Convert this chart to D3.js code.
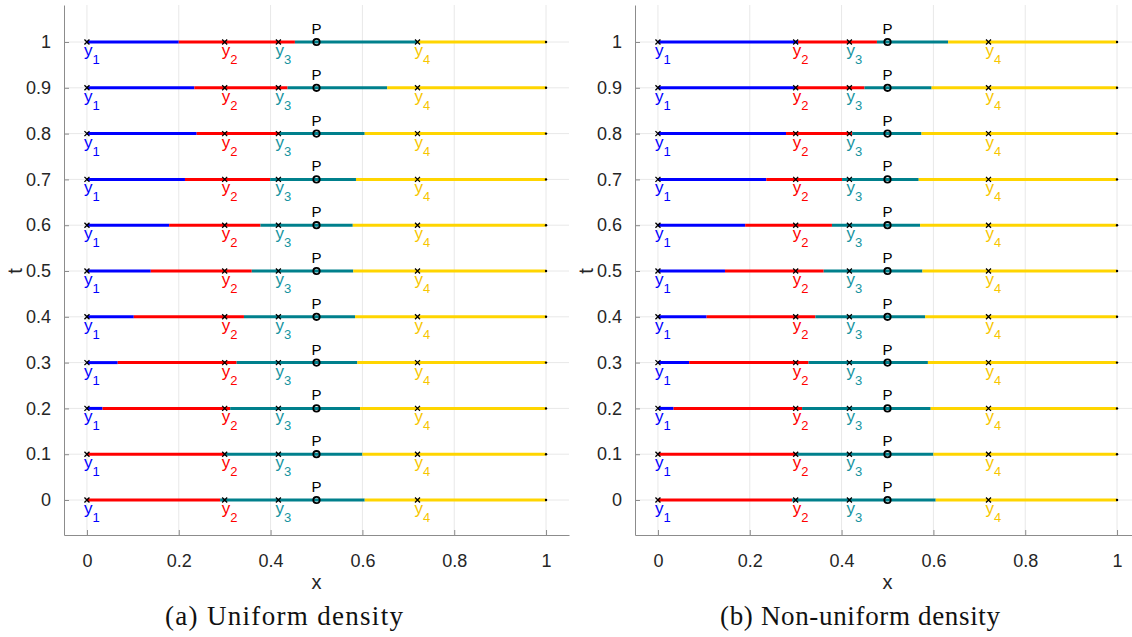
<!DOCTYPE html>
<html>
  <head>
    <meta charset="utf-8">
    <title>Segments over t</title>
    <script src="https://cdn.jsdelivr.net/npm/d3@7"></script>
    <style>
      body { margin: 0; background: #fff; }
      svg { display: block; }
      .grid line { stroke: #e8e8e8; stroke-width: 1; }
      .axisLine { stroke: #8c8c8c; stroke-width: 1; }
      .lbl { font-family: "Liberation Sans", Arial, sans-serif; }
      .caption { font-family: "Liberation Serif", "DejaVu Serif", serif; font-size: 27px; fill: #111; }
    </style>
  </head>
  <body>
    <svg id="chart" width="1132" height="637"></svg>
    <script>
      // data
      tValues = [0, 0.1, 0.2, 0.3, 0.4, 0.5, 0.6, 0.7, 0.8, 0.9, 1];
      xTicks = [0, 0.2, 0.4, 0.6, 0.8, 1];
      markerNames = ["1", "2", "3", "4"];
      markerX = [0, 0.3, 0.417, 0.72];
      pointP = 0.5;
      segColors = ["#0000ff", "#ff0000", "#00808c", "#ffd500"];
      labelColors = ["#0000ff", "#ff0000", "#1593a0", "#f7c600"];
      // breaks per t: blue->red, red->teal, teal->yellow
      breaksUniform = [
        [0, 0.290, 0.605],
        [0, 0.300, 0.600],
        [0.034, 0.312, 0.595],
        [0.067, 0.326, 0.589],
        [0.102, 0.342, 0.584],
        [0.139, 0.359, 0.580],
        [0.179, 0.378, 0.579],
        [0.2135, 0.399, 0.586],
        [0.239, 0.420, 0.605],
        [0.234, 0.437, 0.654],
        [0.200, 0.453, 0.720]
      ];
      breaksNonUniform = [
        [0, 0.292, 0.605],
        [0, 0.303, 0.600],
        [0.034, 0.314, 0.594],
        [0.068, 0.328, 0.588],
        [0.106, 0.343, 0.582],
        [0.146, 0.361, 0.576],
        [0.190, 0.379, 0.571],
        [0.236, 0.401, 0.568],
        [0.279, 0.423, 0.574],
        [0.300, 0.450, 0.596],
        [0.305, 0.477, 0.632]
      ];
      captions = ["(a) Uniform density", "(b) Non-uniform density"];

      chart = d3.select("#chart");

      drawPanel(breaksUniform, captions[0], 64, 284, 238);
      drawPanel(breaksNonUniform, captions[1], 635, 860, 280);

      function drawPanel(breaks, caption, left, captionX, captionW) {
        var g = chart.append("g");
        var x = d3.scaleLinear().domain([-0.05, 1.05]).range([left, left + 505]);
        var y = d3.scaleLinear().domain([-0.0764, 1.0808]).range([535, 5]);
        // grid
        g.append("g").attr("class", "grid")
          .selectAll("line").data(xTicks).join("line")
            .attr("x1", function(d) { return x(d); })
            .attr("x2", function(d) { return x(d); })
            .attr("y1", y.range()[0]).attr("y2", y.range()[1]);
        g.append("g").attr("class", "grid")
          .selectAll("line").data(tValues).join("line")
            .attr("y1", function(d) { return y(d); })
            .attr("y2", function(d) { return y(d); })
            .attr("x1", x.range()[0]).attr("x2", x.range()[1]);
        // axes
        var xAxis = d3.axisBottom(x).tickValues(xTicks).tickFormat(d3.format("~g"))
          .tickSizeInner(-5).tickSizeOuter(0).tickPadding(19);
        var yAxis = d3.axisLeft(y).tickValues(tValues).tickFormat(d3.format("~g"))
          .tickSizeInner(-5).tickSizeOuter(0).tickPadding(13);
        var xg = g.append("g").attr("transform", "translate(0," + y.range()[0] + ")").call(xAxis);
        var yg = g.append("g").attr("transform", "translate(" + x.range()[0] + ",0)").call(yAxis);
        [xg, yg].forEach(function(a) {
          a.attr("font-size", 18).attr("font-family", "Liberation Sans, Arial, sans-serif");
          a.select(".domain").attr("class", "axisLine");
          a.selectAll(".tick line").attr("stroke", "#8c8c8c");
          a.selectAll(".tick text").attr("fill", "#262626");
        });
        xg.append("text").attr("class", "lbl")
          .attr("x", x(0.5)).attr("y", 54)
          .attr("text-anchor", "middle").attr("fill", "#262626")
          .style("font-size", "20px").text("x");
        yg.append("text").attr("class", "lbl")
          .attr("transform", "translate(-42," + y(0.5) + ") rotate(-90)")
          .attr("text-anchor", "middle").attr("fill", "#262626")
          .style("font-size", "20px").text("t");
        // rows
        var rows = g.append("g").selectAll("g").data(tValues).join("g")
          .attr("transform", function(d) { return "translate(0," + y(d) + ")"; });
        rows.each(function(t, i) {
          var row = d3.select(this);
          var edges = [0].concat(breaks[i]).concat([1]);
          for (var k = 0; k < 4; k++) {
            if (edges[k + 1] <= edges[k]) continue;
            row.append("line")
              .attr("x1", x(edges[k])).attr("x2", x(edges[k + 1]))
              .attr("stroke", segColors[k]).attr("stroke-width", 3);
          }
          row.append("circle").attr("cx", x(1)).attr("r", 1.2).attr("fill", "#000");
          markerX.forEach(function(m, j) {
            var cx = x(m);
            row.append("path")
              .attr("d", "M" + (cx - 2.5) + ",-2.5L" + (cx + 2.5) + ",2.5M" + (cx - 2.5) + ",2.5L" + (cx + 2.5) + ",-2.5")
              .attr("stroke", "#000").attr("stroke-width", 1.3);
            var txt = row.append("text").attr("class", "lbl")
              .attr("x", cx - 3).attr("y", 14)
              .attr("fill", labelColors[j]).style("font-size", "17px");
            txt.append("tspan").text("y");
            txt.append("tspan").attr("dy", 8).style("font-size", "13px").text(markerNames[j]);
          });
          row.append("circle").attr("cx", x(pointP)).attr("r", 3.2)
            .attr("fill", "none").attr("stroke", "#000").attr("stroke-width", 1.8);
          row.append("text").attr("class", "lbl")
            .attr("x", x(pointP)).attr("y", -8)
            .attr("text-anchor", "middle").attr("fill", "#000")
            .style("font-size", "15px").text("P");
        });
        // caption
        chart.append("text").attr("class", "caption")
          .attr("x", captionX).attr("y", 625)
          .attr("text-anchor", "middle")
          .attr("textLength", captionW).attr("lengthAdjust", "spacing")
          .text(caption);
      }
    </script>
  </body>
</html>
